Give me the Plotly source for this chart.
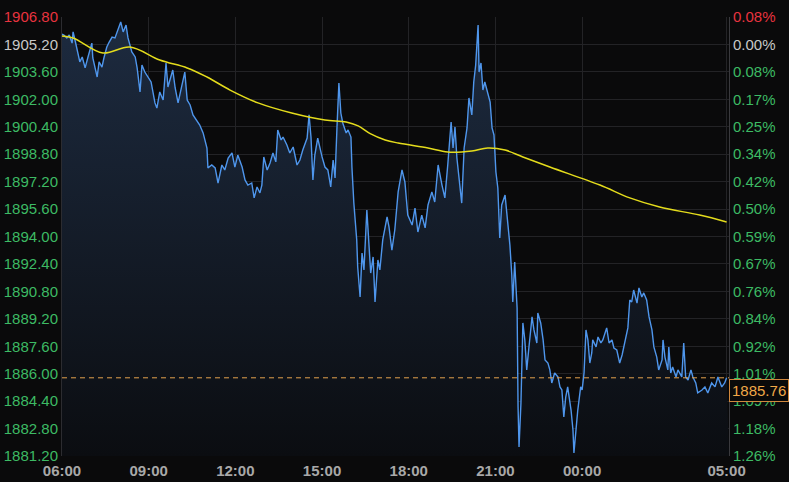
import plotly.graph_objects as go

# ---- data (minutes after 06:00, price) ----
price_min = [0, 4, 10, 15, 21, 23, 27, 33, 37, 42, 48, 54, 62, 64, 73, 77, 83, 87, 93, 98,
             104, 110, 116, 122, 127, 133, 137, 145, 152, 156, 162, 166, 172, 179, 185, 193, 197,
             203, 210, 216, 220, 230, 235, 241, 249, 255, 260, 266, 272, 280, 286, 293, 301, 303,
             311, 318, 324, 332, 338, 345, 353, 359, 365, 374, 380, 386, 394, 399, 405, 411, 415,
             419, 426, 432, 438, 444, 448, 455, 459, 467, 473, 480, 488, 494, 500, 509, 513, 517,
             521, 525, 531, 540, 546, 552, 558, 563, 567, 571, 575, 579, 583, 590, 594, 600, 602,
             606, 612, 614, 619, 623, 627, 633, 637, 641, 646, 650, 656, 660, 666, 675, 679, 685,
             691, 698, 706, 712, 718, 727, 733, 739, 747, 754, 760, 768, 774, 781, 789, 795, 801,
             808, 812, 816, 820, 824, 830, 835, 841, 845, 851, 855, 859, 864, 866, 870, 874, 878,
             884, 889, 893, 897, 901, 905, 909, 913, 920, 926, 930, 934, 936, 940, 945, 947, 949,
             953, 957, 961, 965, 969, 976, 980, 986, 988, 994, 999, 1003, 1009, 1013, 1017, 1023,
             1030, 1034, 1038, 1042, 1046, 1050, 1057, 1061, 1063, 1067, 1071, 1077, 1080, 1084,
             1088, 1092, 1096, 1100, 1102, 1109, 1113, 1119, 1123, 1131, 1136, 1142, 1146, 1152,
             1158, 1163, 1169, 1175, 1179, 1183, 1187, 1194, 1198, 1204, 1208, 1214, 1219, 1225,
             1229, 1235, 1239, 1246, 1248, 1252, 1258, 1260, 1264, 1268, 1275, 1279, 1287, 1291,
             1295, 1300, 1306, 1310, 1316, 1320, 1329, 1335, 1341, 1349, 1356, 1362, 1370, 1376, 1380]
price_val = [1905.80, 1905.75, 1905.58, 1905.75, 1905.28, 1905.93, 1905.46, 1904.76, 1904.18, 1904.47,
             1903.83, 1904.47, 1905.28, 1904.41, 1903.30, 1904.18, 1903.88, 1904.41, 1905.05, 1905.34,
             1905.63, 1905.58, 1906.04, 1906.51, 1905.93, 1906.33, 1905.58, 1904.76, 1904.47, 1903.83,
             1902.43, 1904.00, 1903.59, 1903.30, 1903.01, 1901.79, 1901.49, 1902.43, 1901.96, 1904.12,
             1902.72, 1903.71, 1902.66, 1901.79, 1902.83, 1903.59, 1901.96, 1901.67, 1901.09, 1900.79,
             1900.50, 1900.04, 1899.16, 1898.00, 1898.17, 1898.00, 1897.12, 1898.17, 1897.88, 1898.58,
             1898.87, 1898.05, 1898.75, 1898.05, 1897.30, 1897.00, 1897.12, 1896.25, 1896.89, 1896.54,
             1897.00, 1898.64, 1897.88, 1898.29, 1898.87, 1898.35, 1900.21, 1899.63, 1899.80, 1899.34,
             1898.87, 1899.22, 1898.17, 1898.46, 1899.04, 1899.74, 1901.09, 1899.80, 1897.30, 1898.75,
             1899.74, 1898.64, 1898.05, 1897.88, 1896.89, 1898.46, 1897.41, 1900.39, 1902.95, 1901.20,
             1900.62, 1900.04, 1900.21, 1899.80, 1898.05, 1895.95, 1893.80, 1892.22, 1890.47, 1893.04,
             1892.05, 1895.55, 1893.97, 1891.87, 1892.81, 1890.18, 1892.63, 1892.05, 1893.80, 1895.14,
             1894.56, 1893.21, 1894.38, 1896.60, 1897.88, 1897.18, 1895.25, 1894.67, 1895.66, 1894.26,
             1895.25, 1894.50, 1895.84, 1896.60, 1896.01, 1898.17, 1897.00, 1896.25, 1898.17, 1900.68,
             1899.16, 1900.39, 1898.58, 1897.59, 1895.95, 1899.16, 1900.33, 1902.08, 1901.09, 1903.01,
             1904.00, 1906.33, 1903.59, 1904.12, 1902.54, 1903.01, 1902.37, 1901.84, 1900.33, 1899.92,
             1897.76, 1896.83, 1893.91, 1895.84, 1896.42, 1894.85, 1893.51, 1891.76, 1890.18, 1892.51,
             1889.83, 1884.06, 1881.73, 1884.29, 1888.96, 1887.97, 1886.22, 1887.38, 1889.31, 1888.55,
             1887.79, 1889.54, 1888.96, 1887.97, 1886.80, 1886.62, 1886.22, 1885.46, 1886.04, 1885.81,
             1885.23, 1885.05, 1883.48, 1884.64, 1885.23, 1883.88, 1882.72, 1881.38, 1882.89, 1883.88,
             1885.23, 1885.05, 1886.04, 1888.55, 1887.97, 1886.62, 1887.21, 1887.97, 1887.56, 1888.14,
             1887.79, 1887.97, 1888.67, 1887.79, 1887.97, 1887.50, 1887.38, 1886.62, 1887.09, 1887.79,
             1888.67, 1890.30, 1890.18, 1890.88, 1890.12, 1891.00, 1890.47, 1890.71, 1890.30, 1889.31,
             1888.55, 1887.56, 1886.97, 1886.22, 1886.80, 1887.97, 1886.97, 1886.22, 1887.56, 1886.04,
             1886.39, 1885.81, 1886.22, 1885.81, 1887.79, 1885.81, 1885.63, 1886.22, 1885.81, 1885.46,
             1884.88, 1885.05, 1885.23, 1884.88, 1885.46, 1885.23, 1885.81, 1885.23, 1885.46, 1885.76]

ma_min = [0, 23, 85, 141, 203, 260, 301, 349, 407, 477, 546, 590, 615, 640, 671, 698, 760, 801,
          851, 884, 920, 957, 1013, 1117, 1179, 1241, 1324, 1380]
ma_val = [1905.69, 1905.58, 1904.70, 1905.05, 1904.29, 1903.83, 1903.30, 1902.54, 1901.79, 1901.20,
          1900.79, 1900.68, 1900.45, 1900.00, 1899.63, 1899.45, 1899.16, 1898.93, 1898.99, 1899.16,
          1899.04, 1898.64, 1898.05, 1897.00, 1896.25, 1895.72, 1895.25, 1894.85]

last_price = 1885.76

y_ticks = [1906.80, 1905.20, 1903.60, 1902.00, 1900.40, 1898.80, 1897.20, 1895.60, 1894.00,
           1892.40, 1890.80, 1889.20, 1887.60, 1886.00, 1884.40, 1882.80, 1881.20]
y_labels = ["1906.80", "1905.20", "1903.60", "1902.00", "1900.40", "1898.80", "1897.20", "1895.60",
            "1894.00", "1892.40", "1890.80", "1889.20", "1887.60", "1886.00", "1884.40", "1882.80",
            "1881.20"]
pct_labels = ["0.08%", "0.00%", "0.08%", "0.17%", "0.25%", "0.34%", "0.42%", "0.50%", "0.59%",
              "0.67%", "0.76%", "0.84%", "0.92%", "1.01%", "1.09%", "1.18%", "1.26%"]
x_ticks = [0, 180, 360, 540, 720, 900, 1080, 1380]
x_labels = ["06:00", "09:00", "12:00", "15:00", "18:00", "21:00", "00:00", "05:00"]

RED, GRAY, GREEN = "#e8333f", "#c8c8c8", "#3dba64"

def colored(labels):
    out = []
    for i, s in enumerate(labels):
        c = RED if i == 0 else (GRAY if i == 1 else GREEN)
        out.append(f"<span style='color:{c}'>{s}</span>")
    return out

y_lo, y_hi = y_ticks[-1], y_ticks[0]
x_end = 1385

fig = go.Figure()
fig.add_trace(go.Scatter(x=[0, x_end], y=[y_lo, y_lo], mode="lines", line=dict(width=0),
                         showlegend=False, hoverinfo="skip"))
fig.add_trace(go.Scatter(x=price_min, y=price_val, mode="lines",
                         line=dict(color="#4f96ec", width=1.4),
                         fill="tonexty",
                         fillgradient=dict(type="vertical",
                                           colorscale=[[0, "#0b0d11"], [1, "#1d2b40"]],
                                           start=y_lo, stop=y_hi),
                         showlegend=False))
fig.add_trace(go.Scatter(x=ma_min, y=ma_val, mode="lines", line=dict(color="#e4dc1c", width=1.5),
                         line_shape="spline", showlegend=False))
fig.add_trace(go.Scatter(x=[0], y=[y_lo], yaxis="y2", mode="lines", opacity=0,
                         showlegend=False, hoverinfo="skip"))

fig.add_shape(type="line", xref="x", yref="y", x0=0, x1=x_end, y0=last_price, y1=last_price,
              line=dict(color="#e3a24e", width=1, dash="5px,4px"))

fig.add_annotation(xref="paper", yref="y", x=1, y=last_price, xanchor="left", yanchor="top",
                   text=f"{last_price:.2f}", showarrow=False,
                   font=dict(family="Liberation Sans, Arial", size=15, color="#f0a848"),
                   bgcolor="#0a0a0a", bordercolor="#d0883e", borderwidth=1, borderpad=2,
                   xshift=0, yshift=-1)

axis_font = dict(family="Liberation Sans, Arial", size=15)
fig.update_layout(
    width=789, height=482,
    margin=dict(l=62, r=60, t=17, b=26, autoexpand=False),
    paper_bgcolor="#0a0a0b", plot_bgcolor="#0a0a0b",
    showlegend=False,
    xaxis=dict(range=[0, x_end], tickvals=x_ticks, ticktext=x_labels, showgrid=True,
               gridcolor="#232326", gridwidth=1, zeroline=False, showline=False, ticks="",
               automargin=False, ticklabelstandoff=4,
               tickfont=dict(family="Liberation Sans, Arial", size=15, color="#a8a8a8", weight="bold")),
    yaxis=dict(range=[y_lo, y_hi], tickvals=y_ticks, ticktext=colored(y_labels), showgrid=True,
               gridcolor="#232326", gridwidth=1, zeroline=False, showline=True, linecolor="#2c2c30",
               ticks="", automargin=False, tickfont=axis_font),
    yaxis2=dict(range=[y_lo, y_hi], overlaying="y", side="right", tickvals=y_ticks,
                ticktext=colored(pct_labels), showgrid=False, zeroline=False, showline=True,
                linecolor="#3a3a3e", ticks="", automargin=False, tickfont=axis_font),
)

fig.write_html("out.html", config={"displayModeBar": False},
               post_script="document.body.style.margin='0';document.body.style.background='#0a0a0b';")
